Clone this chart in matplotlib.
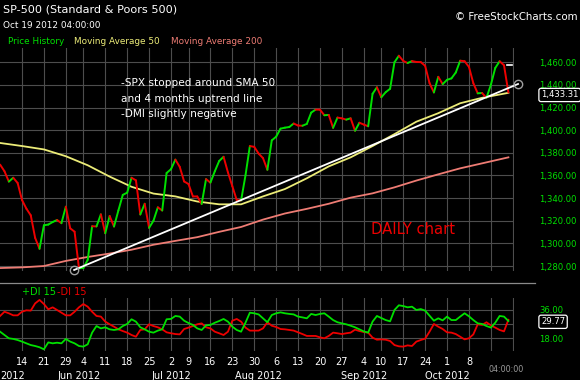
import matplotlib
matplotlib.use("Agg")
import matplotlib.pyplot as plt
import matplotlib.transforms as mtrans
from matplotlib.collections import LineCollection
from matplotlib.lines import Line2D
import numpy as np

# ---------------- data ----------------
# trading-day index: 0 = May 14 2012, first value = May 7 2012 (index -5), last = Oct 19 2012 (index 111)
price_start = -5
price = [1369.58, 1363.72, 1354.58, 1357.99, 1353.39,
         1338.35, 1330.66, 1324.80, 1304.86, 1295.22,
         1315.99, 1316.63, 1318.86, 1320.68, 1317.82,
         1332.42, 1313.32, 1310.33, 1278.04,
         1278.18, 1285.50, 1315.13, 1314.99, 1325.66,
         1308.93, 1324.18, 1314.88, 1329.10, 1342.84,
         1344.78, 1357.98, 1355.69, 1325.51, 1335.02,
         1313.72, 1319.99, 1331.85, 1329.04, 1362.16,
         1365.51, 1374.02, 1367.58, 1354.68,
         1352.46, 1341.47, 1341.45, 1334.76, 1356.78,
         1353.64, 1363.67, 1372.78, 1376.51, 1362.66,
         1350.52, 1338.31, 1337.89, 1360.02, 1385.97,
         1385.30, 1379.32, 1375.32, 1365.00, 1390.99,
         1394.23, 1401.35, 1402.22, 1402.80, 1405.87,
         1404.11, 1403.93, 1405.53, 1415.51, 1418.16,
         1418.13, 1413.17, 1413.49, 1402.08, 1411.13,
         1410.44, 1409.30, 1410.49, 1399.48, 1406.58,
         1404.94, 1403.44, 1432.12, 1437.92,
         1429.08, 1433.56, 1436.56, 1459.99, 1465.77,
         1461.19, 1459.32, 1461.05, 1460.26, 1460.15,
         1456.89, 1441.59, 1433.32, 1447.15, 1440.67,
         1444.49, 1445.75, 1450.99, 1461.40, 1460.93,
         1455.88, 1441.48, 1432.56, 1432.84, 1428.59,
         1440.13, 1454.92, 1460.91, 1457.34, 1433.31]

ma_idx = [-5, 0, 5, 10, 15, 20, 25, 30, 35, 40, 45, 50, 55, 60, 65, 70, 75, 80, 85, 90, 95, 100, 105, 111]
ma50 = [1388.7, 1386.0, 1383.0, 1377.0, 1369.0, 1359.0, 1350.0, 1344.0, 1341.5, 1337.0, 1334.5, 1334.5,
        1341.5, 1348.0, 1357.5, 1368.0, 1376.0, 1386.0, 1396.5, 1407.5, 1415.0, 1423.8, 1428.6, 1433.0]
ma200 = [1278.2, 1278.8, 1280.0, 1284.5, 1288.0, 1291.0, 1294.4, 1298.8, 1302.2, 1305.5, 1310.2, 1314.5,
         1321.0, 1326.4, 1330.5, 1335.0, 1340.4, 1344.2, 1349.5, 1355.5, 1361.0, 1366.3, 1370.7, 1376.0]

trend_x = [11.9, 113.2]
trend_y = [1276.5, 1440.8]
last_marker = 1458.0
last_price_label = "1,433.31"

plus_di = [22.2, 20.1, 18.0, 17.6, 16.9, 15.9, 14.8, 13.7, 13.1, 12.3, 11.0, 15.4, 14.8, 15.2, 14.8, 17.6,
           15.9, 14.8, 13.1, 12.7, 14.2, 21.6, 25.8, 24.3, 25.0, 23.7, 23.3, 23.7, 25.8, 27.1, 30.1, 28.6,
           25.0, 23.7, 22.2, 21.6, 22.9, 23.7, 30.1, 30.3, 32.2, 31.8, 29.2, 27.7, 26.5, 24.3, 23.3, 26.2,
           26.5, 27.9, 29.0, 30.3, 28.6, 25.4, 23.3, 22.2, 27.9, 34.3, 33.9, 33.2, 30.7, 28.2, 32.8, 33.9,
           34.5, 33.9, 33.5, 33.2, 31.8, 31.3, 30.7, 33.5, 32.8, 33.5, 33.9, 31.8, 29.6, 28.2, 27.5, 26.9,
           26.0, 25.0, 23.7, 22.4, 21.6, 28.6, 32.2, 30.9, 29.6, 28.8, 36.0, 39.0, 38.5, 37.7, 38.1, 36.0,
           36.6, 35.6, 32.4, 29.2, 30.7, 29.4, 31.8, 29.6, 29.6, 31.8, 33.9, 32.0, 29.6, 27.5, 27.1, 25.8,
           24.8, 27.9, 32.2, 31.8, 29.0]
minus_di = [32.2, 34.9, 33.9, 32.6, 32.6, 34.9, 35.8, 35.6, 40.2, 42.4, 39.8, 36.4, 37.7, 36.0, 34.3, 32.6,
            32.6, 34.9, 37.7, 39.8, 38.1, 34.9, 32.2, 31.8, 28.6, 26.9, 25.4, 23.7, 22.6, 21.6, 20.1, 19.0,
            23.3, 23.7, 26.9, 25.8, 25.0, 23.7, 21.8, 21.2, 20.7, 20.5, 23.9, 24.8, 25.8, 26.9, 27.5, 25.0,
            24.3, 22.2, 21.2, 20.1, 22.2, 29.2, 30.3, 28.6, 24.8, 22.9, 22.9, 22.9, 24.3, 28.2, 26.0, 25.2,
            23.9, 23.7, 23.3, 22.9, 21.8, 20.7, 19.5, 19.5, 19.5, 18.6, 18.0, 19.5, 21.6, 21.2, 20.7, 21.2,
            21.6, 23.5, 22.6, 22.0, 21.6, 18.4, 17.1, 17.3, 17.1, 16.3, 13.7, 12.9, 12.7, 13.5, 13.1, 15.9,
            16.9, 17.8, 22.2, 27.1, 25.4, 23.9, 21.8, 21.6, 20.7, 19.0, 17.3, 18.0, 20.5, 26.9, 26.5, 28.2,
            26.2, 24.8, 23.3, 22.4, 29.8]
di_label = "29.77"

tick_idx = [0, 5, 10, 14, 19, 24, 29, 34, 38, 43, 48, 53, 58, 63, 68, 73, 78, 82, 87, 92, 97, 102, 107, 112]
tick_lbl = ['14', '21', '29', '4', '11', '18', '25', '2', '9', '16', '23', '30', '6', '13', '20', '27',
            '4', '10', '17', '24', '1', '8', '', '']
# first month label is only partly visible in the reference ("2012" of May 2012)
month_lbl = ['2012', 'Jun 2012', 'Jul 2012', 'Aug 2012', 'Sep 2012', 'Oct 2012']
month_idx = [-5, 13, 34, 54, 78, 97]
price_ticks = [1280, 1300, 1320, 1340, 1360, 1380, 1400, 1420, 1440, 1460]

# ---------------- style ----------------
W, H = 580, 380
BG = 'black'
GRID = '#4d4d4d'
GREEN = '#00e000'
RED = '#ee0000'
YEL = '#ecec78'
SAL = '#ee7c74'
FONT = 'DejaVu Sans'
plt.rcParams['font.family'] = [FONT]

fig = plt.figure(figsize=(W / 100, H / 100), dpi=100, facecolor=BG)


def fx(x):
    return x / W


def fy(y):
    return 1 - y / H


XL = (-5.02, 112.28)
AXW = 514 / W

# main panel
ax = fig.add_axes([0, fy(271), AXW, (271 - 48) / H], facecolor=BG)
ax.set_xlim(*XL)
ax.set_ylim(1275.6, 1472.6)
for s in ax.spines.values():
    s.set_visible(False)
ax.set_xticks(tick_idx)
ax.set_xticklabels([])
ax.set_yticks(price_ticks)
ax.set_yticklabels([f"{v:,.2f}" for v in price_ticks])
ax.yaxis.tick_right()
ax.tick_params(axis='y', length=0, pad=18, labelsize=6.1, labelcolor=GREEN)
ax.tick_params(axis='x', length=0)
ax.grid(True, color=GRID, lw=0.8)
ax.set_axisbelow(True)

px = np.arange(price_start, price_start + len(price))
pv = np.array(price)
segs = [[(px[i], pv[i]), (px[i + 1], pv[i + 1])] for i in range(len(pv) - 1)]
cols = [GREEN if pv[i + 1] >= pv[i] else RED for i in range(len(pv) - 1)]
ax.add_collection(LineCollection(segs, colors=cols, linewidths=1.4, capstyle='round', zorder=4))
ax.plot(ma_idx, ma200, color=SAL, lw=1.3, zorder=3)
ax.plot(ma_idx, ma50, color=YEL, lw=1.3, zorder=3)
ax.plot(trend_x, trend_y, color='white', lw=1.3, zorder=5, clip_on=False)
ax.plot(trend_x, trend_y, ls='none', marker='o', ms=6, mfc='none', mec='#a0a0a0', mew=1.0,
        zorder=6, clip_on=False)
ax.plot([110.6, 111.8], [last_marker, last_marker], color='white', lw=1.2, zorder=5)

bt = mtrans.blended_transform_factory(ax.transAxes, ax.transData)
ax.annotate(last_price_label, xy=(1.0, price[-1]), xycoords=bt, xytext=(27, -2.5),
            textcoords='offset pixels', color='white', fontsize=6.1, va='center', ha='left',
            bbox=dict(boxstyle='round,pad=0.25', fc='black', ec='white', lw=0.9), zorder=10,
            annotation_clip=False)

# annotations
for t, y in zip(["-SPX stopped around SMA 50", "and 4 months uptrend line", "-DMI slightly negative"],
                [83, 99, 114]):
    fig.text(fx(121), fy(y), t, color='white', fontsize=7.6, va='center', ha='left')
fig.text(fx(371), fy(230), "DAILY chart", color=RED, fontsize=10.6, va='center', ha='left')

# header
fig.text(fx(3), fy(10), "SP-500 (Standard & Poors 500)", color='white', fontsize=8.1, va='center')
fig.text(fx(3), fy(25), "Oct 19 2012 04:00:00", color='white', fontsize=6.4, va='center')
fig.text(fx(578), fy(17), "© FreeStockCharts.com", color='white', fontsize=7.4, va='center', ha='right')
fig.text(fx(8), fy(42), "Price History", color=GREEN, fontsize=6.4, va='center')
fig.text(fx(74), fy(42), "Moving Average 50", color=YEL, fontsize=6.4, va='center')
fig.text(fx(171), fy(42), "Moving Average 200", color=SAL, fontsize=6.4, va='center')

fig.add_artist(Line2D([0, fx(535)], [fy(283), fy(283)], color='#8a8a8a', lw=0.9))

# DMI panel
ax2 = fig.add_axes([0, fy(351), AXW, (351 - 298) / H], facecolor=BG)
ax2.set_xlim(*XL)
ax2.set_ylim(9.92, 43.63)
for s in ax2.spines.values():
    s.set_visible(False)
ax2.set_yticks([18, 27, 36])
ax2.set_yticklabels(['18.00', '', '36.00'])
ax2.yaxis.tick_right()
ax2.tick_params(axis='y', length=0, pad=18, labelsize=6.1, labelcolor=GREEN)
ax2.set_xticks(tick_idx)
ax2.set_xticklabels(tick_lbl)
ax2.tick_params(axis='x', length=0, pad=4.5, labelsize=7, labelcolor='white')
ax2.grid(True, color=GRID, lw=0.8)
ax2.set_axisbelow(True)
dx = np.arange(price_start, price_start + len(plus_di))
ax2.plot(dx, minus_di, color=RED, lw=1.3, zorder=3)
ax2.plot(dx, plus_di, color=GREEN, lw=1.3, zorder=4)
bt2 = mtrans.blended_transform_factory(ax2.transAxes, ax2.transData)
ax2.annotate(di_label, xy=(1.0, float(di_label)), xycoords=bt2, xytext=(27, -2),
             textcoords='offset pixels', color='white', fontsize=6.1, va='center', ha='left',
             bbox=dict(boxstyle='round,pad=0.25', fc='black', ec='white', lw=0.9), zorder=10,
             annotation_clip=False)
bx2 = mtrans.blended_transform_factory(ax2.transData, fig.transFigure)
for k, (m, i) in enumerate(zip(month_lbl, month_idx)):
    if k == 0:
        ax2.text(XL[0], fy(376), m, transform=bx2, color='white', fontsize=7, ha='left',
                 va='center', clip_on=False)
    else:
        ax2.text(i, fy(376), m, transform=bx2, color='white', fontsize=7, ha='center',
                 va='center', clip_on=False)
fig.text(fx(506), fy(369), "04:00:00", color='#9a9a9a', fontsize=5.8, ha='center', va='center')
fig.text(fx(22), fy(292), "+DI 15", color=GREEN, fontsize=7, va='center')
fig.text(fx(57), fy(292), "-DI 15", color=RED, fontsize=7, va='center')

fig.savefig("out.png", dpi=100, facecolor=BG)
